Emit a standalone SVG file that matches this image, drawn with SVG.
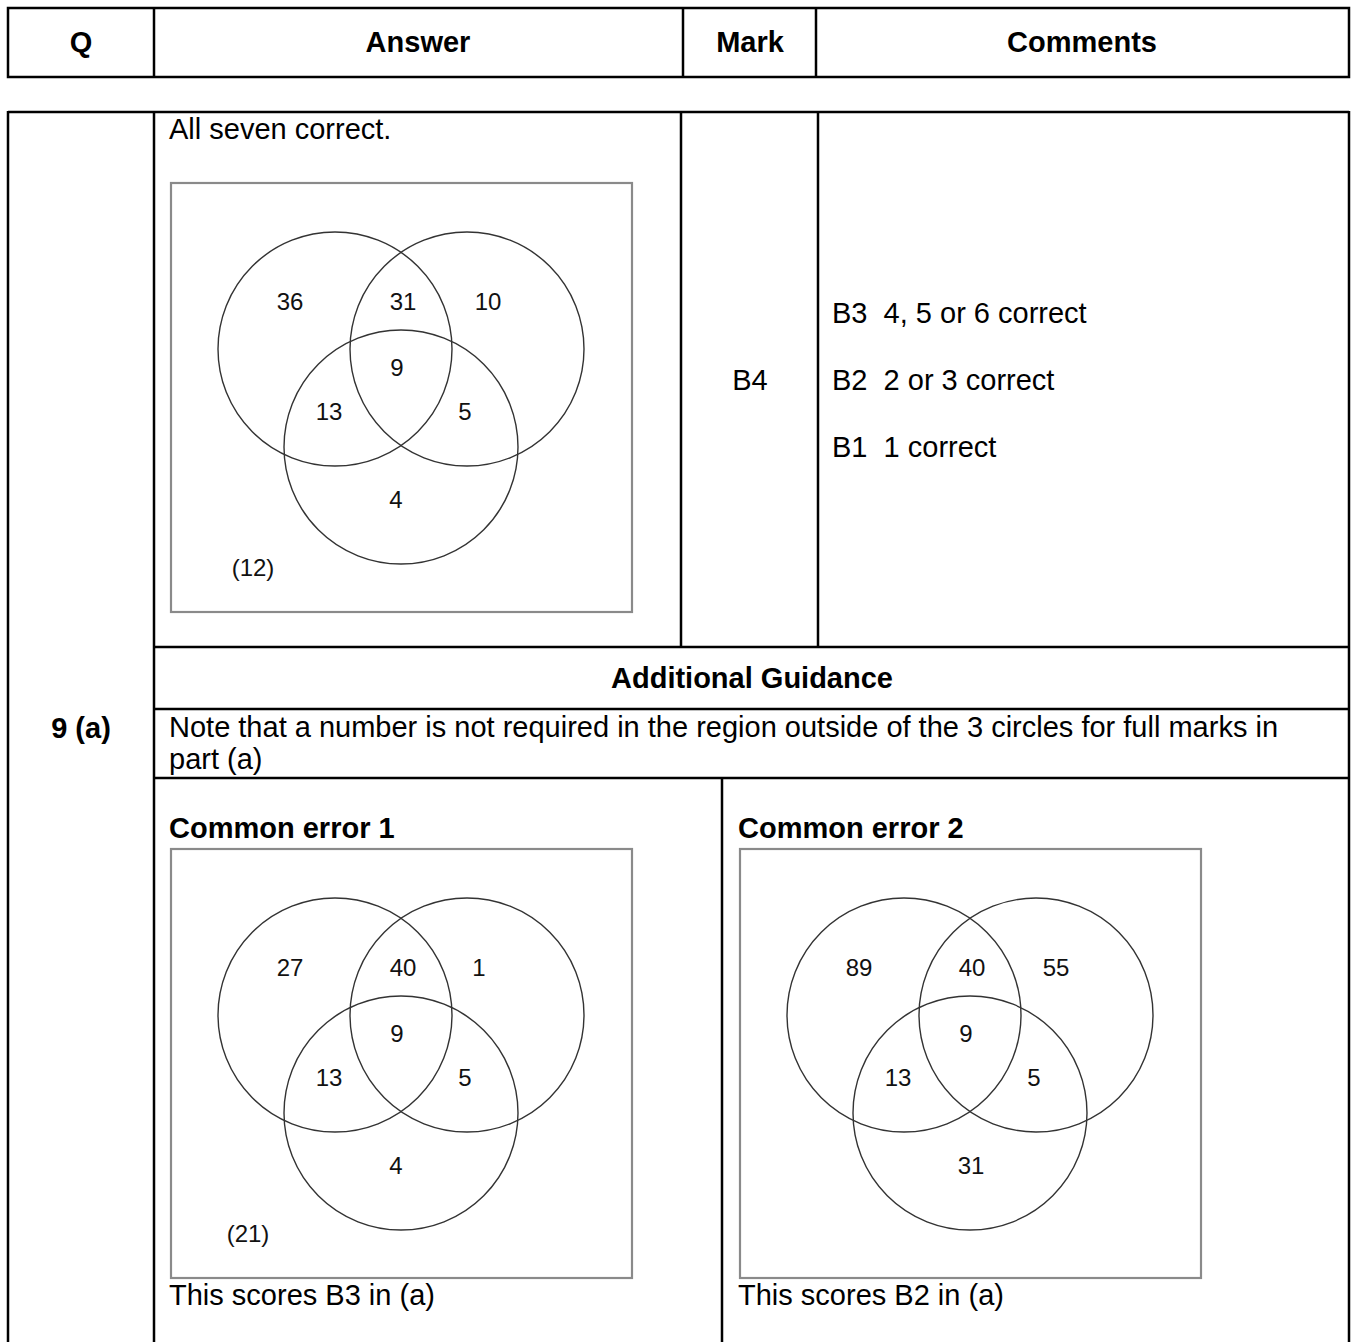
<svg xmlns="http://www.w3.org/2000/svg" width="1357" height="1342" viewBox="0 0 1357 1342">
<style>
.ln{stroke:#000;stroke-width:2.5;fill:none}
.t{font-family:"Liberation Sans",Arial,sans-serif;font-size:29px;fill:#000}
.b{font-weight:bold}
.m{text-anchor:middle}
.n{font-family:"Liberation Sans",Arial,sans-serif;font-size:24px;fill:#111;text-anchor:middle}
.box{fill:none;stroke:#8a8a8a;stroke-width:2.2}
.c{fill:none;stroke:#333;stroke-width:1.4}
</style>
<defs>
<g id="venn">
<rect class="box" x="171" y="183" width="461" height="429"/>
<circle class="c" cx="335" cy="349" r="117"/>
<circle class="c" cx="467" cy="349" r="117"/>
<circle class="c" cx="401" cy="447" r="117"/>
</g>
</defs>
<rect width="1357" height="1342" fill="#fff"/>
<g id="table">
<rect class="ln" x="8" y="8" width="1341" height="69"/>
<line class="ln" x1="154" y1="8" x2="154" y2="77"/>
<line class="ln" x1="683" y1="8" x2="683" y2="77"/>
<line class="ln" x1="816" y1="8" x2="816" y2="77"/>
<line class="ln" x1="8" y1="112" x2="1349" y2="112"/>
<line class="ln" x1="8" y1="111" x2="8" y2="1342"/>
<line class="ln" x1="1349" y1="111" x2="1349" y2="1342"/>
<line class="ln" x1="154" y1="112" x2="154" y2="1342"/>
<line class="ln" x1="681" y1="112" x2="681" y2="647"/>
<line class="ln" x1="818" y1="112" x2="818" y2="647"/>
<line class="ln" x1="154" y1="647" x2="1349" y2="647"/>
<line class="ln" x1="154" y1="709" x2="1349" y2="709"/>
<line class="ln" x1="154" y1="778" x2="1349" y2="778"/>
<line class="ln" x1="722" y1="778" x2="722" y2="1342"/>
</g>
<g id="header">
<text class="t b m" x="81" y="52">Q</text>
<text class="t b m" x="418" y="52">Answer</text>
<text class="t b m" x="750" y="52">Mark</text>
<text class="t b m" x="1082" y="52">Comments</text>
</g>
<g id="q-label"><text class="t b m" x="81" y="738">9 (a)</text></g>
<g id="answer">
<text class="t" x="169" y="139">All seven correct.</text>
<use href="#venn"/>
<text class="n" x="290" y="310">36</text>
<text class="n" x="403" y="310">31</text>
<text class="n" x="488" y="310">10</text>
<text class="n" x="397" y="376">9</text>
<text class="n" x="329" y="420">13</text>
<text class="n" x="465" y="420">5</text>
<text class="n" x="396" y="508">4</text>
<text class="n" x="253" y="576">(12)</text>
</g>
<g id="mark"><text class="t m" x="750" y="390">B4</text></g>
<g id="comments">
<text class="t" x="832" y="323" xml:space="preserve">B3  4, 5 or 6 correct</text>
<text class="t" x="832" y="390" xml:space="preserve">B2  2 or 3 correct</text>
<text class="t" x="832" y="457" xml:space="preserve">B1  1 correct</text>
</g>
<g id="guidance">
<text class="t b m" x="752" y="688">Additional Guidance</text>
<text class="t" x="169" y="737">Note that a number is not required in the region outside of the 3 circles for full marks in</text>
<text class="t" x="169" y="769">part (a)</text>
</g>
<g id="error1">
<text class="t b" x="169" y="838">Common error 1</text>
<use href="#venn" transform="translate(0,666)"/>
<text class="n" x="290" y="976">27</text>
<text class="n" x="403" y="976">40</text>
<text class="n" x="479" y="976">1</text>
<text class="n" x="397" y="1042">9</text>
<text class="n" x="329" y="1086">13</text>
<text class="n" x="465" y="1086">5</text>
<text class="n" x="396" y="1174">4</text>
<text class="n" x="248" y="1242">(21)</text>
<text class="t" x="169" y="1305">This scores B3 in (a)</text>
</g>
<g id="error2">
<text class="t b" x="738" y="838">Common error 2</text>
<use href="#venn" transform="translate(569,666)"/>
<text class="n" x="859" y="976">89</text>
<text class="n" x="972" y="976">40</text>
<text class="n" x="1056" y="976">55</text>
<text class="n" x="966" y="1042">9</text>
<text class="n" x="898" y="1086">13</text>
<text class="n" x="1034" y="1086">5</text>
<text class="n" x="971" y="1174">31</text>
<text class="t" x="738" y="1305">This scores B2 in (a)</text>
</g>
</svg>
